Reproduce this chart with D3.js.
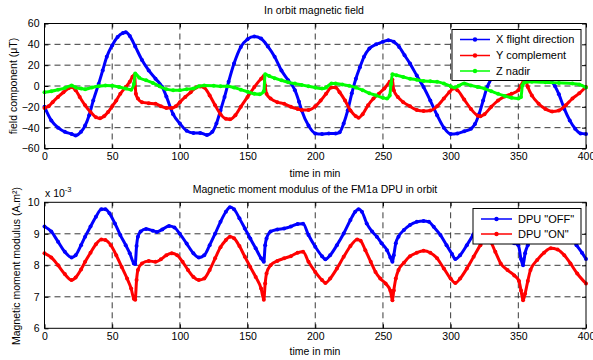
<!DOCTYPE html>
<html>
<head>
<meta charset="utf-8">
<script src="https://cdn.jsdelivr.net/npm/d3@7/dist/d3.min.js"></script>
<style>
  body { margin: 0; background: #fff; }
  svg { font-family: "Liberation Sans", Arial, sans-serif; }
</style>
</head>
<body>
<div id="chart"></div>
<script>
// time axis (min)
const timeTicks = [0, 50, 100, 150, 200, 250, 300, 350, 400];
const fieldTicks = [-60, -40, -20, 0, 20, 40, 60];
const momentTicks = [6, 7, 8, 9, 10];

// In orbit magnetic field, [time, µT]
const xFlight = [[0,-20],[5,-33],[10,-40],[15,-44],[20,-46],[23,-47.5],[27,-44],[30,-38],[33,-28],[36,-14],[40,2],[43,15],[46,28],[50,39],[54,47],[58,51],[60,51.5],[63,48],[67,38],[72,25],[77,15],[82,7],[87,-1],[90,-10],[95,-27],[100,-36],[105,-43],[110,-45],[115,-45],[120,-47],[124,-44],[127,-36],[130,-23.5],[133,-10.5],[136,4],[140,21.5],[145,37.5],[150,45],[155,47.5],[160,45.5],[165,38],[170,28],[175,15],[180,5.5],[185,-4],[188,-15],[190,-23.5],[195,-38],[200,-45.5],[205,-46],[210,-45.5],[215,-45.5],[218,-44.5],[221,-36],[224,-23.5],[227,-7],[230,7],[233,18],[236,28],[240,36],[245,40],[250,42.5],[254,44],[258,42.5],[262,37.5],[266,29.5],[270,21.5],[275,10],[280,-1],[285,-14],[290,-28],[295,-40],[300,-46],[305,-45.5],[310,-43.5],[315,-41],[318,-36.5],[321,-27],[324,-14],[327,-1],[330,7],[335,22],[340,33],[345,40],[350,44],[355,45],[360,40],[365,30],[370,18],[374,6],[377,0],[380,-8],[384,-22],[388,-33],[392,-41],[396,-45.5],[400,-46]];
const yComplement = [[0,-21],[3,-19.5],[6,-15.5],[10,-10.5],[14,-6],[18,-2],[20,-1],[23,-4],[26,-10.5],[30,-18.5],[34,-25],[38,-30],[41,-31],[44,-29],[47,-25],[50,-19.5],[53,-14],[56,-7.5],[60,-1],[63,4],[65,9],[66.5,10.5],[67.5,-7.5],[69,-12],[72,-15.5],[77,-16.5],[82,-17],[86,-19.5],[90,-21],[94,-21],[97,-19.5],[100,-15.5],[104,-10.5],[108,-6],[112,-1.5],[115,-0.5],[118,-1.5],[122,-9],[126,-18.5],[130,-27],[134,-31.5],[137,-32],[141,-28],[145,-20],[150,-10.5],[155,-1],[160,7],[162,9.5],[163,0.5],[164,-7.5],[167,-12],[172,-15.5],[177,-17],[182,-20],[187,-22],[190,-23],[195,-23],[200,-19.5],[204,-14],[208,-7.5],[212,-1.5],[215,-1.5],[218,-6],[222,-14],[226,-23.5],[230,-29],[232,-30.5],[235,-27],[239,-18.5],[243,-12],[247,-7.5],[251,-2.5],[255,4],[257,6],[258,-4],[261,-10.5],[265,-15.5],[270,-19.5],[275,-23],[280,-24],[285,-23.5],[290,-19.5],[295,-12],[299,-6],[302,-2.5],[305,-4],[310,-13],[315,-22],[320,-28.5],[322,-29],[325,-27],[330,-20],[335,-14],[340,-10],[345,-7.5],[350,-4],[352,0.5],[354,5.5],[355,7],[357,-1],[360,-9],[365,-17],[370,-22],[375,-24.5],[380,-23.5],[385,-18.5],[390,-12],[395,-7],[400,-1]];
const zNadir = [[0,-6],[5,-5],[10,-3.5],[15,-2],[20,0.5],[23,-1.5],[27,-2.5],[30,-3],[35,-1.5],[40,-0.3],[45,0.6],[50,0.3],[55,-1],[60,-2.5],[64,-3.5],[66,2],[67,12],[70,8],[75,5.5],[80,3],[85,-0.3],[90,-3],[95,-4],[100,-4],[105,-3],[110,-2.5],[114,-0.3],[118,0.6],[125,0.3],[130,-0.3],[135,-0.3],[140,-1.5],[145,-3.5],[150,-5.5],[155,-7.5],[159,-8],[162,-5],[163,11.3],[166,9.5],[170,7.5],[175,5.5],[180,3.5],[185,2.3],[190,1],[195,-0.3],[200,-1.5],[205,-2.5],[208,-1.5],[212,2.3],[215,2.3],[220,1.5],[225,0.3],[230,-1.5],[235,-4],[240,-7],[245,-9],[250,-11.3],[253,-12],[255,-9],[256,2],[257,11.3],[260,10.3],[265,8.7],[270,7],[275,6],[280,4.8],[285,4.5],[290,4],[295,2.3],[300,-0.3],[303,-1.5],[306,0.3],[310,2.3],[315,0.6],[320,-1],[325,-2.5],[330,-5],[335,-7.5],[340,-9.5],[345,-11.3],[350,-12],[352,-10.5],[353,0.5],[354,3],[360,4],[370,3.5],[380,3],[390,2.3],[395,1.5],[400,-1.5]];

// Magnetic moment modulus, [time, x 10^-3 A.m²]
const dpuOff = [[0,9.23],[5,9.07],[10,8.75],[15,8.43],[20,8.25],[23,8.32],[27,8.64],[30,8.91],[34,9.23],[38,9.54],[42,9.78],[45,9.78],[48,9.65],[52,9.33],[56,8.96],[60,8.64],[63,8.38],[66,8.06],[67,8.04],[68,8.61],[69,8.91],[71,9.07],[75,9.15],[80,9.1],[83,9.06],[87,9.14],[92,9.25],[96,9.2],[100,9.0],[105,8.69],[110,8.38],[114,8.25],[118,8.32],[122,8.64],[126,9.0],[130,9.38],[134,9.7],[137,9.84],[140,9.78],[144,9.49],[148,9.17],[152,8.85],[156,8.54],[160,8.22],[162,8.11],[163,8.64],[164,8.85],[167,9.07],[172,9.14],[177,9.17],[182,9.23],[187,9.31],[191,9.32],[195,8.96],[200,8.59],[205,8.29],[207.5,8.19],[211,8.32],[216,8.64],[221,9.01],[226,9.44],[229.5,9.7],[232,9.78],[234.5,9.7],[238,9.33],[242,9.07],[245.5,8.91],[249,8.7],[253,8.48],[255.5,8.25],[257,8.11],[258,8.32],[259.5,8.7],[261.5,8.91],[265.5,9.12],[270,9.28],[275,9.38],[280,9.41],[284,9.38],[287.5,9.22],[292.5,8.96],[297,8.64],[301,8.36],[303.5,8.2],[307,8.32],[312,8.64],[316.5,8.96],[321,9.35],[326,9.7],[329,9.65],[333,9.3],[337,8.95],[342,8.78],[347,8.7],[350,8.64],[352,8.2],[353.5,8.0],[355,8.38],[357,8.64],[361,8.95],[366,9.2],[371,9.35],[376,9.42],[381,9.35],[386,9.1],[390,8.85],[393,8.64],[397,8.4],[400,8.2]];
const dpuOn = [[0,8.38],[5,8.25],[10,8.0],[15,7.72],[20,7.53],[23,7.61],[27,7.87],[30,8.11],[34,8.4],[38,8.67],[42,8.82],[45,8.8],[49,8.64],[53,8.32],[57,7.95],[61,7.58],[64,7.26],[66,6.94],[67,6.91],[68,7.53],[69,7.85],[72,8.06],[77,8.14],[82,8.11],[86,8.19],[90,8.32],[94,8.38],[98,8.32],[102,8.11],[106,7.85],[110,7.63],[114,7.53],[118,7.58],[122,7.85],[126,8.22],[130,8.57],[134,8.8],[137,8.91],[140,8.86],[144,8.61],[148,8.27],[152,7.95],[156,7.63],[160,7.26],[162,6.91],[163,7.42],[164,7.74],[167,8.0],[172,8.14],[177,8.22],[182,8.29],[187,8.4],[191,8.43],[195,8.11],[200,7.79],[205,7.53],[207.5,7.44],[211,7.58],[216,7.9],[221,8.27],[226,8.61],[231,8.82],[233.5,8.78],[237,8.48],[241,8.11],[244.5,7.79],[248,7.58],[252,7.42],[255.5,7.19],[257,6.89],[258,7.2],[259.5,7.58],[261.5,7.85],[265.5,8.08],[270,8.29],[275,8.4],[280,8.46],[285,8.4],[290,8.22],[295,7.9],[300,7.58],[303.5,7.44],[307,7.58],[312,7.9],[317,8.27],[322,8.64],[326,8.88],[329.5,8.75],[333,8.43],[337,8.06],[342,7.85],[347,7.68],[350.5,7.5],[352,7.2],[353.5,6.89],[355,7.1],[357,7.5],[359,7.85],[364,8.17],[369,8.4],[374,8.54],[379,8.5],[384,8.32],[388.5,8.06],[393.5,7.74],[400,7.42]];

const fieldSeries = ['X flight direction', 'Y complement', 'Z nadir'];
const momentSeries = ['DPU "OFF"', 'DPU "ON"'];

const width = 593;
const height = 360;

const svg = d3
  .select('#chart')
  .append('svg')
  .attr('width', width)
  .attr('height', height);

const x = d3.scaleLinear().domain([0, 400]).range([44.5, 586]);
const yField = d3.scaleLinear().domain([-60, 60]).range([148.5, 23.5]);
const yMoment = d3.scaleLinear().domain([6, 10]).range([328.3, 202.3]);

function drawPanel(y, yTicks) {
  const g = svg.append('g');
  const [top, bottom] = [y.range()[1], y.range()[0]];
  const [left, right] = x.range();

  // dashed grid
  g.selectAll('.vgrid')
    .data(timeTicks.slice(1, -1))
    .enter()
    .append('line')
    .attr('x1', (d) => x(d))
    .attr('x2', (d) => x(d))
    .attr('y1', top)
    .attr('y2', bottom)
    .attr('stroke', '#222')
    .attr('stroke-dasharray', '6,4')
    .attr('stroke-width', 0.9);
  g.selectAll('.hgrid')
    .data(yTicks.slice(1, -1))
    .enter()
    .append('line')
    .attr('x1', left)
    .attr('x2', right)
    .attr('y1', (d) => y(d))
    .attr('y2', (d) => y(d))
    .attr('stroke', '#222')
    .attr('stroke-dasharray', '6,4')
    .attr('stroke-width', 0.9);

  g.append('g')
    .attr('transform', `translate(0,${bottom})`)
    .call(d3.axisBottom(x).tickValues(timeTicks).tickFormat(d3.format('d'))
      .tickSizeInner(-4).tickSizeOuter(0).tickPadding(4));
  g.append('g')
    .attr('transform', `translate(0,${top})`)
    .call(d3.axisTop(x).tickValues(timeTicks).tickSizeInner(-4).tickSizeOuter(0).tickFormat(''));
  g.append('g')
    .attr('transform', `translate(${left},0)`)
    .call(d3.axisLeft(y).tickValues(yTicks).tickFormat(d3.format('d'))
      .tickSizeInner(-4).tickSizeOuter(0).tickPadding(5));
  g.append('g')
    .attr('transform', `translate(${right},0)`)
    .call(d3.axisRight(y).tickValues(yTicks).tickSizeInner(-4).tickSizeOuter(0).tickFormat(''));

  g.selectAll('.domain').remove();
  g.selectAll('.tick line').attr('stroke', '#000');
  g.selectAll('.tick text')
    .attr('fill', '#000')
    .style('font-size', '10.5px')
    .style('font-family', '"Liberation Sans", Arial, sans-serif');

  return g;
}

function drawFrame(y) {
  svg
    .append('rect')
    .attr('x', x.range()[0])
    .attr('y', y.range()[1])
    .attr('width', x.range()[1] - x.range()[0])
    .attr('height', y.range()[0] - y.range()[1])
    .attr('fill', 'none')
    .attr('stroke', '#000')
    .attr('stroke-width', 1);
}

function drawSeries(data, y, color) {
  const line = d3
    .line()
    .x((d) => x(d[0]))
    .y((d) => y(d[1]))
    .curve(d3.curveMonotoneX);

  svg
    .append('path')
    .datum(data)
    .attr('d', line)
    .attr('fill', 'none')
    .attr('stroke', color)
    .attr('stroke-width', 3)
    .attr('stroke-linejoin', 'round');

  svg
    .append('g')
    .selectAll('circle')
    .data(data)
    .enter()
    .append('circle')
    .attr('cx', (d) => x(d[0]))
    .attr('cy', (d) => y(d[1]))
    .attr('r', 2)
    .attr('fill', color);
}

function drawLegend(names, colors, box, rowY) {
  const legend = svg.append('g');
  legend
    .append('rect')
    .attr('x', box.x)
    .attr('y', box.y)
    .attr('width', box.w)
    .attr('height', box.h)
    .attr('fill', '#fff')
    .attr('stroke', '#000')
    .attr('stroke-width', 1);

  names.forEach((name, i) => {
    legend
      .append('line')
      .attr('x1', box.x + 8)
      .attr('x2', box.x + box.lineW + 8)
      .attr('y1', rowY[i])
      .attr('y2', rowY[i])
      .attr('stroke', colors[i])
      .attr('stroke-width', 1.5);
    legend
      .append('circle')
      .attr('cx', box.x + 8 + box.lineW / 2)
      .attr('cy', rowY[i])
      .attr('r', 2.2)
      .attr('fill', colors[i]);
    legend
      .append('text')
      .attr('x', box.x + box.lineW + 14)
      .attr('y', rowY[i])
      .attr('dy', '0.35em')
      .style('font-size', '11px')
      .text(name);
  });
}

// top panel
drawPanel(yField, fieldTicks);
drawSeries(xFlight, yField, '#0000ff');
drawSeries(yComplement, yField, '#ff0000');
drawSeries(zNadir, yField, '#00ff00');
drawFrame(yField);
drawLegend(fieldSeries, ['#0000ff', '#ff0000', '#00ff00'],
  { x: 452, y: 29.5, w: 129, h: 51, lineW: 30 }, [39.5, 55.5, 71]);

svg.append('text')
  .attr('x', 314).attr('y', 14)
  .attr('text-anchor', 'middle')
  .style('font-size', '10.5px')
  .text('In orbit magnetic field');
svg.append('text')
  .attr('x', 315).attr('y', 176.5)
  .attr('text-anchor', 'middle')
  .style('font-size', '10.5px')
  .text('time in min');
svg.append('text')
  .attr('transform', 'translate(16.5,86) rotate(-90)')
  .attr('text-anchor', 'middle')
  .style('font-size', '10.5px')
  .text('field component (μT)');

// bottom panel
drawPanel(yMoment, momentTicks);
drawSeries(dpuOff, yMoment, '#0000ff');
drawSeries(dpuOn, yMoment, '#ff0000');
drawFrame(yMoment);
drawLegend(momentSeries, ['#0000ff', '#ff0000'],
  { x: 473, y: 208.5, w: 108, h: 35.5, lineW: 31 }, [219, 234]);

svg.append('text')
  .attr('x', 315).attr('y', 193)
  .attr('text-anchor', 'middle')
  .style('font-size', '10.5px')
  .text('Magnetic moment modulus of the FM1a DPU in orbit');
const expo = svg.append('text')
  .attr('x', 45).attr('y', 197)
  .style('font-size', '10.5px');
expo.append('tspan').text('x 10');
expo.append('tspan').attr('dy', -5).style('font-size', '7.5px').text('-3');
svg.append('text')
  .attr('x', 315).attr('y', 355)
  .attr('text-anchor', 'middle')
  .style('font-size', '10.5px')
  .text('time in min');
svg.append('text')
  .attr('transform', 'translate(19.5,266) rotate(-90)')
  .attr('text-anchor', 'middle')
  .style('font-size', '10.5px')
  .text('Magnetic moment modulus (A.m²)');
</script>
</body>
</html>
